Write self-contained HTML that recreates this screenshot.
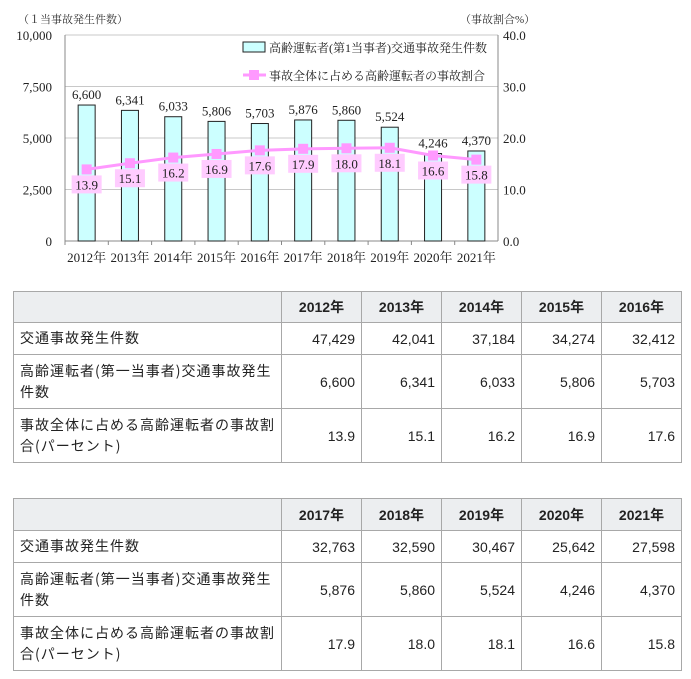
<!DOCTYPE html>
<html><head><meta charset="utf-8"><style>
body{margin:0;width:691px;height:679px;background:#fff;overflow:hidden;font-family:"Liberation Sans","Noto Sans CJK JP",sans-serif;}
svg text{font-family:"Liberation Serif","Noto Serif CJK SC",serif;}
table{position:absolute;left:13px;border-collapse:collapse;font-size:14px;color:#222;}
td,th{border:1px solid #a8a8a8;padding:0 6px;}
th{background:#eceef0;font-weight:bold;height:30px;text-align:center;}
td.n{text-align:right;}
td.l{width:255px;line-height:21px;letter-spacing:1px;font-family:"Noto Sans CJK JP",sans-serif;font-size:14px;}
td.c{width:67px;}
</style></head><body>
<svg id="chart" width="691" height="270" style="position:absolute;left:0;top:0"></svg>
<table style="top:291px">
<tr style="height:31px"><th></th><th>2012年</th><th>2013年</th><th>2014年</th><th>2015年</th><th>2016年</th></tr>
<tr style="height:32px"><td class="l">交通事故発生件数</td><td class="n c">47,429</td><td class="n c">42,041</td><td class="n c">37,184</td><td class="n c">34,274</td><td class="n c">32,412</td></tr>
<tr style="height:54px"><td class="l">高齢運転者(第一当事者)交通事故発生<br>件数</td><td class="n">6,600</td><td class="n">6,341</td><td class="n">6,033</td><td class="n">5,806</td><td class="n">5,703</td></tr>
<tr style="height:54px"><td class="l">事故全体に占める高齢運転者の事故割<br>合(パーセント)</td><td class="n">13.9</td><td class="n">15.1</td><td class="n">16.2</td><td class="n">16.9</td><td class="n">17.6</td></tr>
</table>
<table style="top:498px">
<tr style="height:32px"><th></th><th>2017年</th><th>2018年</th><th>2019年</th><th>2020年</th><th>2021年</th></tr>
<tr style="height:32px"><td class="l">交通事故発生件数</td><td class="n c">32,763</td><td class="n c">32,590</td><td class="n c">30,467</td><td class="n c">25,642</td><td class="n c">27,598</td></tr>
<tr style="height:54px"><td class="l">高齢運転者(第一当事者)交通事故発生<br>件数</td><td class="n">5,876</td><td class="n">5,860</td><td class="n">5,524</td><td class="n">4,246</td><td class="n">4,370</td></tr>
<tr style="height:54px"><td class="l">事故全体に占める高齢運転者の事故割<br>合(パーセント)</td><td class="n">17.9</td><td class="n">18.0</td><td class="n">18.1</td><td class="n">16.6</td><td class="n">15.8</td></tr>
</table>
<script>
const years=["2012年","2013年","2014年","2015年","2016年","2017年","2018年","2019年","2020年","2021年"];
const counts=[6600,6341,6033,5806,5703,5876,5860,5524,4246,4370];
const countLabels=["6,600","6,341","6,033","5,806","5,703","5,876","5,860","5,524","4,246","4,370"];
const ratios=[13.9,15.1,16.2,16.9,17.6,17.9,18.0,18.1,16.6,15.8];
const leftTicks=[0,2500,5000,7500,10000];
const leftTickLabels=["0","2,500","5,000","7,500","10,000"];
const rightTicks=[0,10,20,30,40];
const rightTickLabels=["0.0","10.0","20.0","30.0","40.0"];
const svg=document.getElementById('chart');
const NS='http://www.w3.org/2000/svg';
const X0=65,X1=498,Y0=241,Y1=35;
const bw=(X1-X0)/years.length;
const xc=i=>X0+bw*(i+0.5);
const yl=v=>Y0-(v/10000)*(Y0-Y1);
const yr=v=>Y0-(v/40)*(Y0-Y1);
function mk(t,a,txt){const e=document.createElementNS(NS,t);for(const k in a)e.setAttribute(k,a[k]);if(txt!==undefined)e.textContent=txt;svg.appendChild(e);return e;}
leftTicks.forEach((v,i)=>{
 const g=mk('line',{x1:X0,x2:X1,y1:yl(v),y2:yl(v),stroke:i==0?'#888':'#c8c8c8','stroke-width':1});
 
 
 const t=mk('text',{x:52,y:yl(v)+5,'text-anchor':'end','font-size':13,fill:'#222'},leftTickLabels[i]);
 
 
});
rightTicks.forEach((v,i)=>{
 const t=mk('text',{x:503,y:yr(v)+5,'font-size':13,fill:'#222'},rightTickLabels[i]);
 
 
});
mk('line',{x1:X0,x2:X0,y1:Y1,y2:Y0,stroke:'#888'});
mk('line',{x1:X1,x2:X1,y1:Y1,y2:Y0,stroke:'#888'});
let a=mk('text',{x:18,y:23,'font-size':11,fill:'#333'},'（１当事故発生件数）');


a=mk('text',{x:460,y:23,'font-size':11,fill:'#333'},'（事故割合%）');


years.forEach((y,i)=>{
 const b=mk('rect',{x:xc(i)-8.5,y:yl(counts[i]),width:17,height:Y0-yl(counts[i]),fill:'#ccffff',stroke:'#222','stroke-width':1});
 
 
 const t=mk('text',{x:xc(i),y:yl(counts[i])-6,'text-anchor':'middle','font-size':13,fill:'#222'},countLabels[i]);
 
 
 mk('line',{x1:X0+bw*i,x2:X0+bw*i,y1:Y0,y2:Y0+4,stroke:'#888'});
 const xl=mk('text',{x:xc(i),y:262,'text-anchor':'middle','font-size':13,fill:'#222'},y);
 
 
});
const pts=ratios.map((r,i)=>xc(i)+','+yr(r)).join(' ');
const pl=mk('polyline',{points:pts,fill:'none',stroke:'#ff99ff','stroke-width':3});


ratios.forEach((r,i)=>{
 const m=mk('rect',{x:xc(i)-5,y:yr(r)-5,width:10,height:10,fill:'#ff99ff'});
 
 
 const bx=mk('rect',{x:xc(i)-15,y:yr(r)+6,width:30,height:18,fill:'#ffccff'});
 
 
 const t=mk('text',{x:xc(i),y:yr(r)+20,'text-anchor':'middle','font-size':13,fill:'#222'},r.toFixed(1));
 
 
});
let lg=mk('rect',{x:243,y:42,width:22,height:10,fill:'#ccffff',stroke:'#222'});


lg=mk('text',{x:269,y:52,'font-size':12,fill:'#222'},'高齢運転者(第1当事者)交通事故発生件数');


mk('line',{x1:243,x2:266,y1:75,y2:75,stroke:'#ff99ff','stroke-width':3});
lg=mk('rect',{x:249,y:70,width:10,height:10,fill:'#ff99ff'});


lg=mk('text',{x:269,y:80,'font-size':12,fill:'#222'},'事故全体に占める高齢運転者の事故割合');


</script>
</body></html>
